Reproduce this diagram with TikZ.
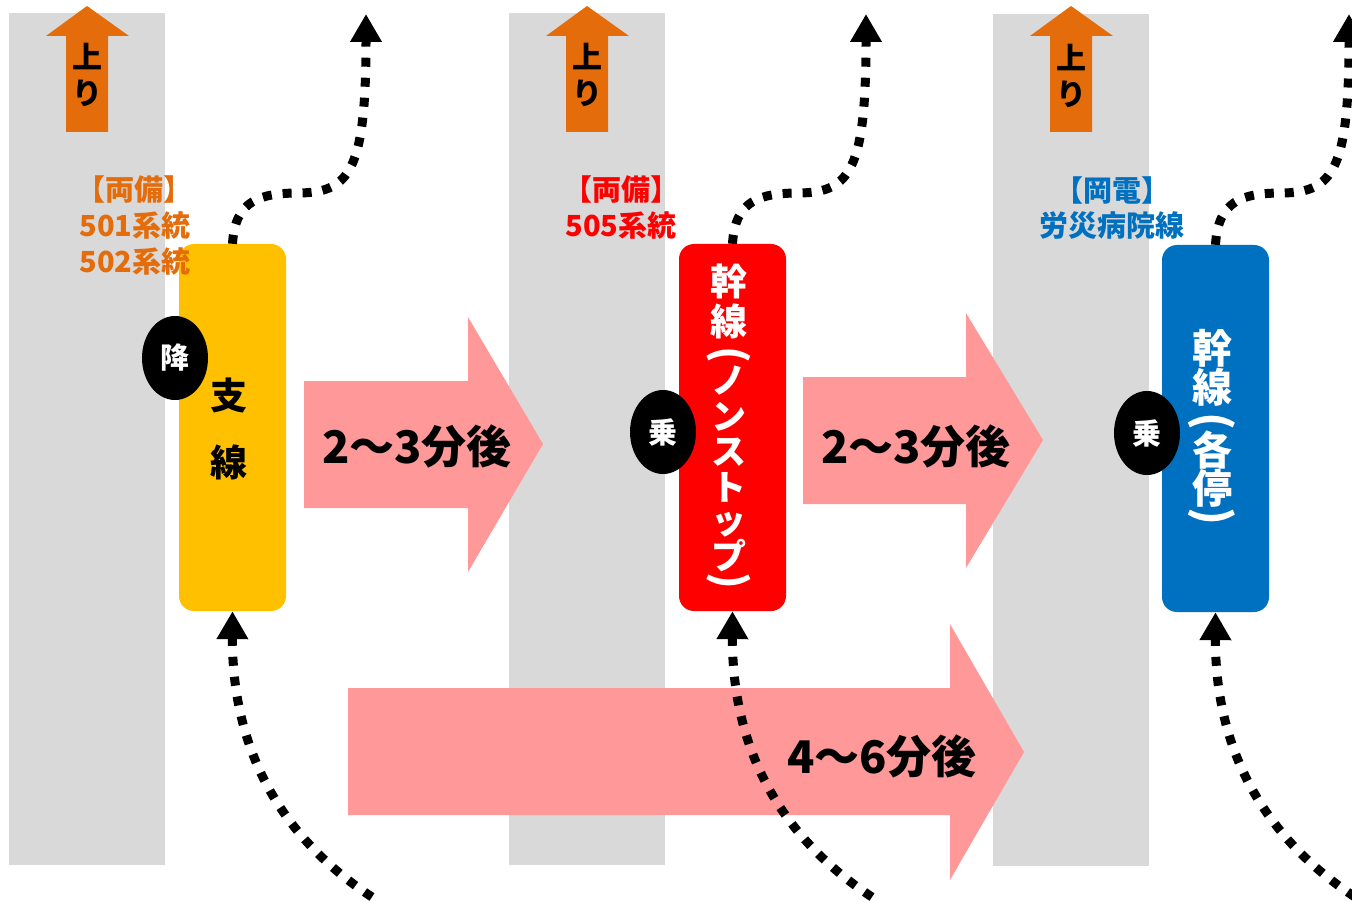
\documentclass[tikz,border=0pt]{standalone}
\usepackage{fontspec}
\setmainfont{Noto Sans CJK JP}
\usetikzlibrary{shapes.geometric,arrows.meta}
\definecolor{lanegray}{HTML}{D9D9D9}
\definecolor{uporange}{HTML}{E46C0A}
\definecolor{pinkc}{HTML}{FF9999}
\definecolor{boxyellow}{HTML}{FFC000}
\definecolor{boxred}{HTML}{FF0000}
\definecolor{boxblue}{HTML}{0070C0}
\newcommand{\jpsz}[1]{\fontsize{#1}{#1}\selectfont\bfseries}
\begin{document}
\begin{tikzpicture}[x=1pt,y=-1pt,
  lane/.style={fill=lanegray,draw=none},
  upar/.style={fill=uporange,draw=none},
  pinkar/.style={fill=pinkc,draw=none},
  busbox/.style={rectangle,rounded corners=15pt,minimum width=107pt,minimum height=367pt,inner sep=0pt,draw=none},
  stopmark/.style={ellipse,fill=black,minimum width=66pt,minimum height=84pt,inner sep=0pt,text=white,font=\jpsz{29}},
  walk/.style={line width=9pt,dash pattern=on 9pt off 11pt,-{Triangle[length=28pt,width=30pt]}},
  uptext/.style={inner sep=0pt,font=\jpsz{30}},
  lbl/.style={inner sep=0pt,font=\jpsz{29}},
  arrtext/.style={inner sep=0pt,font=\jpsz{45}},
  vch/.style={inner sep=0pt,text=white},
  vparen/.style={inner sep=0pt,text=white,rotate=-90},
]
\useasboundingbox (0,0) rectangle (1352,901);

% lanes
\fill[lane] (9,13) rectangle (165,865);
\fill[lane] (509,13) rectangle (665,865);
\fill[lane] (993,14) rectangle (1149,866);

% up arrows
\foreach \dx in {0,500,984}{
  \fill[upar,xshift=\dx pt] (66,132) -- (66,36) -- (46,36) -- (87,6) -- (129,36) -- (108,36) -- (108,132) -- cycle;
}
\node[uptext] (u1a) at (87,57) {上};
\node[uptext] (u1b) at (87,93) {り};
\node[uptext] (u2a) at (587,57) {上};
\node[uptext] (u2b) at (587,93) {り};
\node[uptext] (u3a) at (1071,58) {上};
\node[uptext] (u3b) at (1071,94) {り};

% boxes
\node[busbox,fill=boxyellow] (yel) at (232.5,427.5) {};
\node[busbox,fill=boxred] (red) at (732.5,427.5) {};
\node[busbox,fill=boxblue] (blu) at (1215.5,428.5) {};

% labels
\node[lbl,text=uporange] (l1a) at (134,190) {【両備】};
\node[lbl,text=uporange] (l1b) at (135,226) {501系統};
\node[lbl,text=uporange] (l1c) at (135,262) {502系統};
\node[lbl,text=boxred] (l2a) at (621,190) {【両備】};
\node[lbl,text=boxred] (l2b) at (621,226) {505系統};
\node[lbl,text=boxblue] (l3a) at (1112,190) {【岡電】};
\node[lbl,text=boxblue] (l3b) at (1112,226) {労災病院線};

% yellow box text
\node[inner sep=0pt,font=\jpsz{37}] (y1) at (229,395) {支};
\node[inner sep=0pt,font=\jpsz{37}] (y2) at (229,462) {線};

% red box text
\foreach \c/\y [count=\i] in {幹/281,線/321}{
  \node[vch,font=\jpsz{37}] (rc\i) at (729,\y) {\c};
}
\foreach \c/\y [count=\i] in {ノ/381,ン/417,ス/452,ト/487,ッ/525,プ/556}{
  \node[vch,font=\jpsz{35}] (rk\i) at (729,\y) {\c};
}
\node[vparen,font=\jpsz{42}] (rpo) at (729,355) {(};
\node[vparen,font=\jpsz{42}] (rpc) at (729,581) {)};
% blue box text
\foreach \c/\y [count=\i] in {幹/348,線/387,各/450,停/488}{
  \node[vch,font=\jpsz{40}] (bc\i) at (1212,\y) {\c};
}
\node[vparen,font=\jpsz{45}] (bpo) at (1212,421) {(};
\node[vparen,font=\jpsz{45}] (bpc) at (1212,516) {)};

% stop marks
\node[stopmark] (s1) at (175,358) {降};
\node[stopmark] (s2) at (663,432) {乗};
\node[stopmark] (s3) at (1147,433) {乗};

% pink arrows
\fill[pinkar] (304,381) -- (468,381) -- (468,317) -- (543,444) -- (468,572) -- (468,508) -- (304,508) -- cycle;
\fill[pinkar] (803,377) -- (966,377) -- (966,313) -- (1043,440) -- (966,568) -- (966,504) -- (803,504) -- cycle;
\fill[pinkar] (348,688) -- (950,688) -- (950,624) -- (1024,752) -- (950,880) -- (950,815) -- (348,815) -- cycle;
\node[arrtext] (t1) at (417,446) {2～3分後};
\node[arrtext] (t2) at (916,446) {2～3分後};
\node[arrtext] (t3) at (882,756) {4～6分後};

% walking paths
\coordinate (w1s) at (372,897);
\coordinate (w2s) at (872,897);
\coordinate (w3s) at (1355,897);
\coordinate (e1) at (366,14);
\coordinate (e2) at (866,14);
\coordinate (e3) at (1349,14);
\draw[walk] (w1s) .. controls (300,850) and (232,770) .. (yel.south);
\draw[walk] (w2s) .. controls (800,850) and (732,770) .. (red.south);
\draw[walk] (w3s) .. controls (1283,850) and (1215,770) .. (blu.south);
\draw[walk] (yel.north) .. controls (235,200) and (260,193) .. (300,193) .. controls (350,192) and (366,170) .. (e1);
\draw[walk] (red.north) .. controls (735,200) and (760,193) .. (800,193) .. controls (850,192) and (866,170) .. (e2);
\draw[walk] (blu.north) .. controls (1218,200) and (1243,193) .. (1283,193) .. controls (1333,192) and (1349,170) .. (e3);
\end{tikzpicture}
\end{document}
